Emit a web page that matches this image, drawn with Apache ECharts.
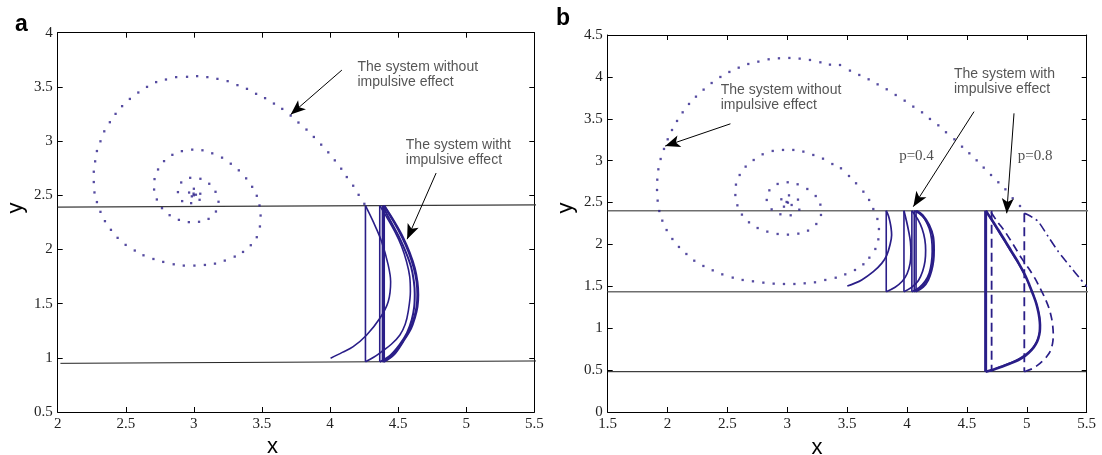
<!DOCTYPE html>
<html><head><meta charset="utf-8">
<script src="https://cdn.jsdelivr.net/npm/echarts@6/dist/echarts.min.js"></script>
<style>html,body{margin:0;padding:0;background:#fff}#c{width:1102px;height:455px}</style>
</head><body><div id="c"></div>
<script>
// ---------------- DATA: panel a ----------------
const LA_XTICKS = ['2','2.5','3','3.5','4','4.5','5','5.5'];
const LA_YTICKS = ['0.5','1','1.5','2','2.5','3','3.5','4'];
const LA_SPIRAL = [[4.252,2.421],[4.21,2.504],[4.17,2.588],[4.123,2.668],[4.082,2.745],[4.035,2.822],[3.987,2.896],[3.935,2.967],[3.881,3.038],[3.827,3.106],[3.768,3.171],[3.711,3.235],[3.649,3.297],[3.588,3.346],[3.523,3.396],[3.457,3.436],[3.39,3.482],[3.32,3.516],[3.248,3.553],[3.173,3.574],[3.099,3.59],[3.024,3.599],[2.95,3.593],[2.87,3.59],[2.795,3.568],[2.723,3.544],[2.656,3.5],[2.592,3.448],[2.53,3.389],[2.473,3.322],[2.425,3.251],[2.383,3.174],[2.342,3.09],[2.314,2.998],[2.288,2.908],[2.275,2.813],[2.265,2.717],[2.265,2.622],[2.27,2.526],[2.288,2.437],[2.314,2.347],[2.347,2.261],[2.391,2.181],[2.44,2.107],[2.499,2.042],[2.566,1.99],[2.63,1.946],[2.703,1.912],[2.775,1.885],[2.852,1.863],[2.926,1.851],[3.004,1.851],[3.081,1.857],[3.155,1.869],[3.227,1.897],[3.3,1.934],[3.361,1.977],[3.418,2.039],[3.462,2.113],[3.485,2.212],[3.49,2.313],[3.482,2.406],[3.462,2.495],[3.428,2.578],[3.384,2.656],[3.33,2.73],[3.271,2.791],[3.207,2.847],[3.135,2.887],[3.063,2.915],[2.988,2.921],[2.912,2.907],[2.842,2.873],[2.781,2.815],[2.737,2.738],[2.711,2.649],[2.708,2.553],[2.728,2.461],[2.766,2.381],[2.822,2.316],[2.89,2.273],[2.963,2.252],[3.038,2.255],[3.108,2.282],[3.162,2.35],[3.181,2.44],[3.159,2.532],[3.113,2.606],[3.048,2.652],[2.973,2.661],[2.907,2.618],[2.883,2.529],[2.914,2.446],[2.98,2.427],[3.042,2.458],[3.047,2.514],[3.0,2.56],[2.965,2.525],[2.985,2.49],[3.015,2.505],[2.998,2.515],[3.0,2.5]];
const LA_THRESH_TOP = [[2,2.39],[5.53,2.412]];
const LA_THRESH_BOT = [[2.02,0.949],[5.53,0.971]];
const LA_Y_HIGH = 2.404, LA_Y_LOW = 0.963;
const LA_JUMPS_X = [4.26, 4.365, 4.385, 4.395, 4.398];
const LA_C1 = [[4.004,0.996],[4.09,1.05],[4.17,1.103],[4.269,1.211],[4.366,1.365],[4.427,1.518],[4.445,1.703],[4.427,1.857],[4.379,2.072],[4.317,2.256],[4.26,2.404]];
const LA_C2 = [[4.26,0.963],[4.32,1.005],[4.379,1.057],[4.45,1.125],[4.513,1.211],[4.552,1.31],[4.574,1.426],[4.59,1.611],[4.585,1.75],[4.562,1.887],[4.525,2.03],[4.476,2.164],[4.42,2.29],[4.365,2.404]];
const LA_C3 = [[4.365,0.963],[4.44,1.02],[4.51,1.12],[4.565,1.23],[4.6,1.35],[4.618,1.47],[4.622,1.59],[4.615,1.71],[4.595,1.84],[4.555,1.98],[4.505,2.12],[4.445,2.26],[4.385,2.404]];
const LA_C4 = [[4.385,0.963],[4.46,1.025],[4.528,1.14],[4.585,1.26],[4.615,1.36],[4.635,1.47],[4.641,1.585],[4.635,1.705],[4.615,1.83],[4.577,1.975],[4.53,2.11],[4.468,2.255],[4.395,2.404]];
const LA_C5 = [[4.395,0.963],[4.47,1.03],[4.538,1.152],[4.595,1.27],[4.623,1.368],[4.642,1.47],[4.648,1.583],[4.642,1.7],[4.623,1.827],[4.585,1.97],[4.538,2.107],[4.475,2.25],[4.398,2.404]];

// ---------------- DATA: panel b ----------------
const RB_XTICKS = ['1.5','2','2.5','3','3.5','4','4.5','5','5.5'];
const RB_YTICKS = ['0','0.5','1','1.5','2','2.5','3','3.5','4','4.5'];
const RB_SPIRAL = [[4.943,2.459],[4.882,2.551],[4.821,2.658],[4.762,2.742],[4.701,2.829],[4.64,2.917],[4.581,3.004],[4.52,3.088],[4.459,3.167],[4.395,3.255],[4.325,3.339],[4.261,3.422],[4.191,3.498],[4.125,3.577],[4.052,3.645],[3.98,3.716],[3.905,3.784],[3.83,3.852],[3.754,3.911],[3.679,3.971],[3.601,4.023],[3.523,4.075],[3.44,4.142],[3.356,4.146],[3.276,4.174],[3.189,4.202],[3.103,4.218],[3.017,4.226],[2.93,4.222],[2.844,4.21],[2.758,4.182],[2.674,4.154],[2.594,4.11],[2.516,4.059],[2.441,3.999],[2.368,3.927],[2.301,3.848],[2.237,3.764],[2.179,3.677],[2.126,3.577],[2.079,3.474],[2.037,3.366],[2.001,3.255],[1.97,3.14],[1.942,3.02],[1.923,2.897],[1.914,2.773],[1.912,2.65],[1.917,2.523],[1.931,2.399],[1.956,2.284],[1.992,2.172],[2.04,2.065],[2.095,1.97],[2.157,1.886],[2.223,1.806],[2.299,1.743],[2.377,1.691],[2.457,1.643],[2.544,1.604],[2.627,1.576],[2.713,1.56],[2.8,1.544],[2.886,1.532],[2.972,1.528],[3.059,1.528],[3.145,1.536],[3.231,1.548],[3.317,1.576],[3.404,1.603],[3.484,1.643],[3.565,1.695],[3.635,1.763],[3.685,1.842],[3.735,1.946],[3.76,2.061],[3.765,2.184],[3.752,2.304],[3.718,2.423],[3.683,2.531],[3.635,2.63],[3.574,2.73],[3.515,2.817],[3.448,2.909],[3.376,2.96],[3.298,3.024],[3.217,3.068],[3.134,3.108],[3.05,3.128],[2.964,3.128],[2.878,3.116],[2.794,3.076],[2.719,3.008],[2.652,2.929],[2.602,2.829],[2.571,2.714],[2.566,2.59],[2.583,2.467],[2.621,2.356],[2.68,2.264],[2.752,2.196],[2.833,2.153],[2.919,2.125],[3.005,2.117],[3.092,2.129],[3.173,2.165],[3.242,2.244],[3.281,2.352],[3.276,2.475],[3.237,2.578],[3.167,2.662],[3.086,2.718],[3.003,2.742],[2.919,2.722],[2.85,2.646],[2.828,2.531],[2.869,2.419],[2.942,2.36],[3.028,2.348],[3.1,2.415],[3.089,2.535],[3.014,2.586],[2.95,2.539],[2.972,2.451],[3.036,2.471],[3.005,2.499],[2.994,2.507]];
const RB_LINE_TOP = [[1.5,2.403],[5.52,2.403]];
const RB_LINE_MID = [[1.5,1.436],[5.52,1.436]];
const RB_LINE_BOT = [[1.5,0.481],[5.5,0.481]];
const P4_Y_HIGH = 2.403, P4_Y_LOW = 1.436;
const P4_JUMPS_X = [3.826, 3.974, 4.04, 4.06, 4.075];
const P4_C1 = [[3.501,1.504],[3.56,1.535],[3.621,1.576],[3.718,1.675],[3.788,1.774],[3.83,1.87],[3.857,1.993],[3.871,2.113],[3.866,2.2],[3.857,2.272],[3.845,2.34],[3.826,2.403]];
const P4_C2 = [[3.826,1.436],[3.9,1.49],[3.96,1.56],[4.0,1.65],[4.025,1.77],[4.032,1.9],[4.028,2.03],[4.013,2.16],[3.995,2.28],[3.974,2.403]];
const P4_C3 = [[3.974,1.436],[4.04,1.49],[4.095,1.57],[4.13,1.68],[4.15,1.8],[4.155,1.93],[4.148,2.06],[4.125,2.19],[4.09,2.3],[4.04,2.403]];
const P4_C4 = [[4.04,1.436],[4.1,1.485],[4.15,1.56],[4.185,1.66],[4.203,1.78],[4.21,1.92],[4.205,2.06],[4.185,2.19],[4.145,2.31],[4.1,2.37],[4.06,2.403]];
const P4_C5 = [[4.06,1.436],[4.12,1.49],[4.165,1.57],[4.198,1.68],[4.215,1.8],[4.219,1.934],[4.214,2.093],[4.178,2.232],[4.122,2.352],[4.075,2.403]];
const P4_C6 = [[4.075,1.436],[4.135,1.49],[4.178,1.575],[4.206,1.69],[4.222,1.81],[4.226,1.935],[4.22,2.09],[4.186,2.235],[4.13,2.355],[4.082,2.403]];
const P8_Y_HIGH = 2.403, P8_Y_LOW = 0.481;
const P8_SOLID_JUMP_X = 4.656;
const P8_SOLID_A = [[4.656,0.481],[4.72,0.505],[4.79,0.541],[4.86,0.578],[4.929,0.62],[4.99,0.675],[5.04,0.74],[5.075,0.81],[5.096,0.879],[5.108,0.96],[5.11,1.038],[5.105,1.12],[5.096,1.197],[5.078,1.3],[5.054,1.396],[5.02,1.52],[4.985,1.635],[4.93,1.78],[4.873,1.914],[4.82,2.04],[4.762,2.172],[4.71,2.29],[4.656,2.403]];
const P8_SOLID_B = [[4.665,0.481],[4.73,0.513],[4.8,0.552],[4.87,0.592],[4.935,0.638],[4.995,0.695],[5.045,0.762],[5.08,0.835],[5.1,0.91],[5.11,0.99],[5.112,1.07],[5.105,1.15],[5.092,1.23],[5.072,1.33],[5.046,1.43],[5.01,1.55],[4.97,1.665],[4.915,1.805],[4.86,1.93],[4.808,2.05],[4.752,2.18],[4.7,2.3],[4.664,2.403]];
const P8_DASH_JUMPS_X = [4.979, 4.706];
const P8_DASH_TOP = [2.371, 2.403];
const P8_DASH_CURVE = [[4.979,0.481],[5.05,0.52],[5.11,0.581],[5.165,0.66],[5.194,0.72],[5.215,0.82],[5.221,0.919],[5.217,1.02],[5.207,1.118],[5.185,1.24],[5.152,1.357],[5.11,1.48],[5.068,1.595],[5.015,1.715],[4.957,1.834],[4.89,1.99],[4.818,2.152],[4.75,2.28],[4.692,2.403]];
const P8_DASHDOT = [[4.979,2.371],[5.0,2.36],[5.05,2.32],[5.096,2.272],[5.18,2.09],[5.263,1.914],[5.32,1.81],[5.375,1.715],[5.44,1.6],[5.5,1.496]];

// annotation anchors (data coordinates)
const LA_NOTES = [{value:[4.205,3.746], name:'The system without\nimpulsive effect'},{value:[4.56,3.027], name:'The system witht\nimpulsive effect'}];
const LA_ARROWS = [[[4.087,3.655],[3.711,3.245]],[[4.779,2.705],[4.566,2.095]]];
const RB_NOTES = [{value:[2.448,3.925], name:'The system without\nimpulsive effect'},{value:[4.395,4.12], name:'The system with\nimpulsive effect'}];
const RB_PLABELS = [{value:[4.083,3.044], name:'p=0.4'},{value:[5.073,3.044], name:'p=0.8'}];
const RB_ARROWS = [[[2.525,3.44],[1.98,3.174]],[[4.559,3.585],[4.052,2.451]],[[4.893,3.565],[4.832,2.372]]];

// ---------------- CHART ----------------
const BLUE = '#2a1e88';
const SERIF = 'Liberation Serif, Times New Roman, serif';
const SANS = 'Liberation Sans, Arial, sans-serif';

function fmt(arr, min){ return v => { const i = Math.round((v - min) / 0.5); return arr[i] !== undefined ? arr[i] : ''; }; }
function xAx(grid, min, max, labels, pos){
  return {gridIndex:grid, type:'value', min:min, max:max, interval:0.5, position:pos,
    axisLine:{show:true, onZero:false, lineStyle:{color:'#000', width:1}},
    axisTick:{show:true, inside:true, length:5, lineStyle:{color:'#000'}},
    axisLabel:{show:pos==='bottom', margin:5, fontFamily:SERIF, fontSize:15, color:'#222', formatter:fmt(labels,min), showMinLabel:true, showMaxLabel:true},
    splitLine:{show:false}};
}
function yAx(grid, min, max, labels, pos){
  return {gridIndex:grid, type:'value', min:min, max:max, interval:0.5, position:pos,
    axisLine:{show:true, onZero:false, lineStyle:{color:'#000', width:1}},
    axisTick:{show:true, inside:true, length:5, lineStyle:{color:'#000'}},
    axisLabel:{show:pos==='left', margin:5, padding:[3,0,0,0], fontFamily:SERIF, fontSize:15, color:'#222', formatter:fmt(labels,min), showMinLabel:true, showMaxLabel:true},
    splitLine:{show:false}};
}
function line(data, ax, style, extra){
  return Object.assign({type:'line', data:data, xAxisIndex:ax, yAxisIndex:ax, showSymbol:false, symbol:'none',
    lineStyle:style, silent:true, animation:false, z:3}, extra||{});
}
function vert(x, lo, hi){ return [[x, hi],[x, lo]]; }

const series = [];
// panel a
series.push(line(LA_THRESH_TOP, 0, {color:'#3a3a3a', width:1.2}, {clip:false, z:2}));
series.push(line(LA_THRESH_BOT, 0, {color:'#222', width:1}, {clip:false, z:2}));
[LA_C1, LA_C2].forEach(c => series.push(line(c, 0, {color:BLUE, width:1.6}, {smooth:0.35})));
[LA_C3, LA_C4, LA_C5].forEach(c => series.push(line(c, 0, {color:BLUE, width:2}, {smooth:0.35})));
LA_JUMPS_X.forEach(x => series.push(line(vert(x, LA_Y_LOW, LA_Y_HIGH), 0, {color:BLUE, width:1.6})));
series.push({type:'scatter', data:LA_SPIRAL, xAxisIndex:0, yAxisIndex:0, symbol:'rect', symbolSize:2.3,
  itemStyle:{color:BLUE}, silent:true, animation:false, z:4,
  markLine:{silent:true, animation:false, symbol:['none','arrow'], symbolSize:[9,15], label:{show:false},
    lineStyle:{color:'#000', width:1, type:'solid'},
    data: LA_ARROWS.map(a => [{coord:a[0]},{coord:a[1]}])}});
series.push({type:'scatter', data:LA_NOTES, xAxisIndex:0, yAxisIndex:0, symbolSize:1, itemStyle:{color:'rgba(0,0,0,0)'},
  silent:true, animation:false, z:5,
  label:{show:true, position:[0,0], align:'left', verticalAlign:'top', formatter:p=>p.name,
    fontFamily:SANS, fontSize:14, lineHeight:15, color:'#2a2a2a'}});

// panel b
series.push(line(RB_LINE_TOP, 2, {color:'#6e6e6e', width:1.5}, {clip:false, z:2}));
series.push(line(RB_LINE_MID, 2, {color:'#6e6e6e', width:1.5}, {clip:false, z:2}));
series.push(line(RB_LINE_BOT, 2, {color:'#111', width:1}, {clip:false, z:2}));
[P4_C1, P4_C2, P4_C3, P4_C4, P4_C5, P4_C6].forEach(c => series.push(line(c, 2, {color:BLUE, width:1.7}, {smooth:0.35})));
P4_JUMPS_X.forEach(x => series.push(line(vert(x, P4_Y_LOW, P4_Y_HIGH), 2, {color:BLUE, width:1.6})));
series.push(line(P8_SOLID_A, 2, {color:BLUE, width:2.6}, {smooth:0.3}));
series.push(line(P8_SOLID_B, 2, {color:BLUE, width:1.3}, {smooth:0.3}));
series.push(line(vert(P8_SOLID_JUMP_X, P8_Y_LOW, P8_Y_HIGH), 2, {color:BLUE, width:3}));
series.push(line(P8_DASH_CURVE, 2, {color:BLUE, width:1.7, type:[8,5]}, {smooth:0.3}));
P8_DASH_JUMPS_X.forEach((x,i) => series.push(line(vert(x, P8_Y_LOW, P8_DASH_TOP[i]), 2, {color:BLUE, width:1.8, type:[9,5]})));
series.push(line(P8_DASHDOT, 2, {color:BLUE, width:1.6, type:[9,4,2,4]}, {smooth:0.3}));
series.push({type:'scatter', data:RB_SPIRAL, xAxisIndex:2, yAxisIndex:2, symbol:'rect', symbolSize:2.3,
  itemStyle:{color:BLUE}, silent:true, animation:false, z:4,
  markLine:{silent:true, animation:false, symbol:['none','arrow'], symbolSize:[9,15], label:{show:false},
    lineStyle:{color:'#000', width:1, type:'solid'},
    data: RB_ARROWS.map(a => [{coord:a[0]},{coord:a[1]}])}});
series.push({type:'scatter', data:RB_NOTES, xAxisIndex:2, yAxisIndex:2, symbolSize:1, itemStyle:{color:'rgba(0,0,0,0)'},
  silent:true, animation:false, z:5,
  label:{show:true, position:[0,0], align:'left', verticalAlign:'top', formatter:p=>p.name,
    fontFamily:SANS, fontSize:14, lineHeight:15, color:'#2a2a2a'}});
series.push({type:'scatter', data:RB_PLABELS, xAxisIndex:2, yAxisIndex:2, symbolSize:1, itemStyle:{color:'rgba(0,0,0,0)'},
  silent:true, animation:false, z:5,
  label:{show:true, position:[0,0], align:'center', verticalAlign:'middle', formatter:p=>p.name,
    fontFamily:SERIF, fontSize:15, color:'#222'}});

const chart = echarts.init(document.getElementById('c'));
chart.setOption({
  animation:false,
  backgroundColor:'#fff',
  grid:[{left:57.7, top:32.7, width:476.6, height:379.3}, {left:607.7, top:35, width:479, height:377}],
  xAxis:[xAx(0,2,5.5,LA_XTICKS,'bottom'), xAx(0,2,5.5,LA_XTICKS,'top'), xAx(1,1.5,5.5,RB_XTICKS,'bottom'), xAx(1,1.5,5.5,RB_XTICKS,'top')],
  yAxis:[yAx(0,0.5,4,LA_YTICKS,'left'), yAx(0,0.5,4,LA_YTICKS,'right'), yAx(1,0,4.5,RB_YTICKS,'left'), yAx(1,0,4.5,RB_YTICKS,'right')],
  series:series,
  graphic:[
    {type:'text', left:15, top:13, style:{text:'a', font:'bold 23px Liberation Sans, Arial', fill:'#000'}},
    {type:'text', left:556, top:7, style:{text:'b', font:'bold 23px Liberation Sans, Arial', fill:'#000'}},
    {type:'text', x:272.5, y:447, style:{text:'x', font:'22px Liberation Sans, Arial', fill:'#000', textAlign:'center', textVerticalAlign:'middle'}},
    {type:'text', x:817, y:448, style:{text:'x', font:'22px Liberation Sans, Arial', fill:'#000', textAlign:'center', textVerticalAlign:'middle'}},
    {type:'text', x:16, y:208, rotation:Math.PI/2, style:{text:'y', font:'22px Liberation Sans, Arial', fill:'#000', textAlign:'center', textVerticalAlign:'middle'}},
    {type:'text', x:566, y:208, rotation:Math.PI/2, style:{text:'y', font:'22px Liberation Sans, Arial', fill:'#000', textAlign:'center', textVerticalAlign:'middle'}}
  ]
});
</script></body></html>
